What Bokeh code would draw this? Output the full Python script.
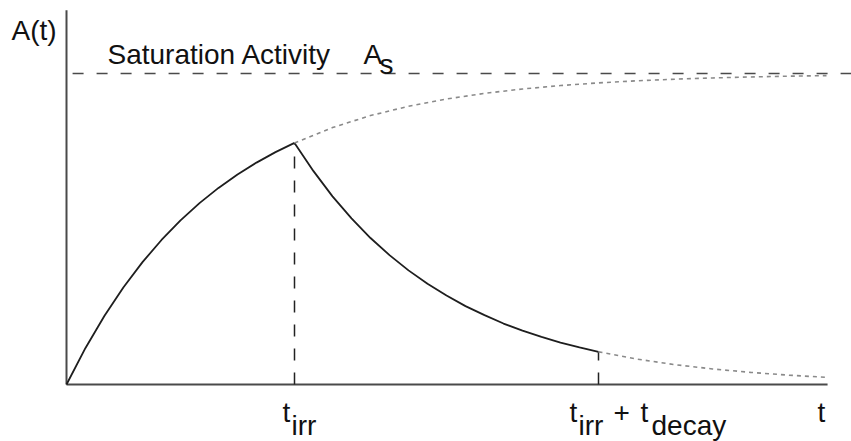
from bokeh.plotting import figure
from bokeh.models import Label, Range1d
from bokeh.embed import file_html
from bokeh.resources import INLINE

# ---- data (time in units of 1/lambda, activity in units of A_s)
t_irr = 1.5
t_decay = 2.0
A_sat = 1.0

rise_t = [0, 0.125, 0.25, 0.375, 0.5, 0.625, 0.75, 0.875, 1.0, 1.125, 1.25, 1.375, 1.5]
rise_a = [0, 0.1175, 0.2212, 0.3127, 0.3935, 0.4647, 0.5276, 0.5831, 0.6321, 0.6753, 0.7135, 0.7472, 0.7769]

sat_t = [1.5, 1.75, 2.0, 2.25, 2.5, 2.75, 3.0, 3.25, 3.5, 3.75, 4.0, 4.25, 4.5, 4.75, 5.0]
sat_a = [0.7769, 0.8262, 0.8647, 0.8946, 0.9179, 0.9361, 0.9502, 0.9612, 0.9698, 0.9765, 0.9817, 0.9857, 0.9889, 0.9913, 0.9933]

decay_t = [1.5, 1.625, 1.75, 1.875, 2.0, 2.125, 2.25, 2.375, 2.5, 2.625, 2.75, 2.875, 3.0, 3.125, 3.25, 3.375, 3.5]
decay_a = [0.7769, 0.686, 0.605, 0.534, 0.471, 0.416, 0.367, 0.324, 0.286, 0.252, 0.223, 0.196, 0.173, 0.153, 0.135, 0.119, 0.105]

tail_t = [3.5, 3.75, 4.0, 4.25, 4.5, 4.75, 5.0]
tail_a = [0.105, 0.082, 0.064, 0.050, 0.039, 0.030, 0.023]

x_end = 5.007
y_end = 1.203

FONT = "Liberation Sans"
FS = "28px"

W, H = 851, 441
OX, OY = 66, 384      # pixel position of the origin
SX, SY = 152, 311     # pixels per unit

p = figure(width=W, height=H, output_backend="svg", toolbar_location=None,
           x_axis_location=None, y_axis_location=None,
           x_range=Range1d(-OX / SX, (W - OX) / SX), y_range=Range1d((OY - H) / SY, OY / SY),
           min_border_left=0, min_border_right=0, min_border_top=0, min_border_bottom=0)
p.grid.visible = False
p.outline_line_color = None
p.background_fill_color = "white"
p.border_fill_color = "white"

AX = "#4a4a4a"
# axes
p.segment(x0=[0, 0], y0=[0, 0], x1=[x_end, 0], y1=[0, y_end], line_color=AX, line_width=2)

# saturation level
p.segment(x0=[0.04], y0=[A_sat], x1=[5.3], y1=[A_sat], line_color=AX, line_width=1.6, line_dash="11 13")

# vertical markers
peak = rise_a[-1]
p.segment(x0=[t_irr, t_irr + t_decay], y0=[0, 0], x1=[t_irr, t_irr + t_decay], y1=[peak, decay_a[-1]],
          line_color="#222222", line_width=1.5, line_dash="12 12")

# curves
p.line(rise_t, rise_a, line_color="#1e1e1e", line_width=1.8)
p.line(decay_t, decay_a, line_color="#1e1e1e", line_width=1.8)
p.line(sat_t, sat_a, line_color="#8a8a8a", line_width=1.6, line_dash="4 4")
p.line(tail_t, tail_a, line_color="#8a8a8a", line_width=1.6, line_dash="4 4")


def px(x):
    return (x - OX) / SX


def py(y):
    return (OY - y) / SY


def lab(text, x, y, size=FS):
    p.add_layout(Label(x=px(x), y=py(y), text=text, text_font=FONT, text_font_size=size,
                       text_color="#111111", text_align="left", text_baseline="alphabetic"))


lab("A(t)", 11, 30)
lab("Saturation Activity", 107, 54)
lab("A", 363, 54)
lab("s", 379, 64)
lab("t", 282, 412)
lab("irr", 291, 425)
lab("t", 569, 412)
lab("irr", 578, 425)
lab("+", 613, 412)
lab("t", 640, 412)
lab("decay", 651, 425)
lab("t", 817, 412)

open("out.html", "w").write(file_html(p, INLINE))
